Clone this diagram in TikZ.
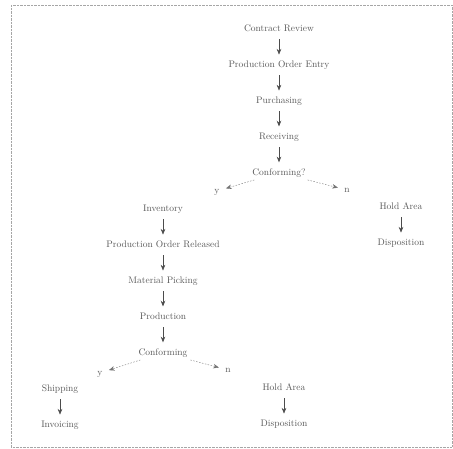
\documentclass[tikz,border=0pt]{standalone}
\usepackage{tikz}
\usetikzlibrary{arrows.meta, positioning}

\begin{document}
\begin{tikzpicture}[x=1pt, y=-1pt, >={Stealth[length=2mm, width=1.6mm]}, node distance=21.3pt,
    every node/.style={font=\fontsize{9.5}{11}\selectfont, text=black!65, text height=1.5ex, text depth=.25ex},
    flow/.style={->, draw=black!70, semithick, shorten <=3pt, shorten >=3pt},
    branch/.style={->, draw=black!55, dash pattern=on 1.5pt off 1.5pt, shorten >=3pt}]
    \useasboundingbox (0,0) rectangle (453,448);
    \draw[black!35, densely dotted] (11,5) rectangle (452,447);

    % incoming material
    \node (contract) at (279,29) {Contract Review};
    \node[below=of contract] (entry) {Production Order Entry};
    \node[below=of entry] (purchasing) {Purchasing};
    \node[below=of purchasing] (receiving) {Receiving};
    \node[below=of receiving] (conf1) {Conforming?};
    \node (y1) at (217,191) {y};
    \node (n1) at (347,190) {n};

    % conforming material
    \node (inventory) at (163,209) {Inventory};
    \node[below=of inventory] (released) {Production Order Released};
    \node[below=of released] (picking) {Material Picking};
    \node[below=of picking] (production) {Production};
    \node[below=of production] (conf2) {Conforming};
    \node (y2) at (100,373) {y};
    \node (n2) at (228,370) {n};

    % non-conforming material
    \node (hold1) at (401,207) {Hold Area};
    \node[below=of hold1] (disp1) {Disposition};

    % final product
    \node (shipping) at (60,389) {Shipping};
    \node[below=of shipping] (invoicing) {Invoicing};
    \node (hold2) at (284,388) {Hold Area};
    \node[below=of hold2] (disp2) {Disposition};

    \draw[flow] (contract) -- (entry);
    \draw[flow] (entry) -- (purchasing);
    \draw[flow] (purchasing) -- (receiving);
    \draw[flow] (receiving) -- (conf1);
    \draw[branch] (conf1) -- (y1);
    \draw[branch] (conf1) -- (n1);
    \draw[flow] (inventory) -- (released);
    \draw[flow] (released) -- (picking);
    \draw[flow] (picking) -- (production);
    \draw[flow] (production) -- (conf2);
    \draw[branch] (conf2) -- (y2);
    \draw[branch] (conf2) -- (n2);
    \draw[flow] (hold1) -- (disp1);
    \draw[flow] (shipping) -- (invoicing);
    \draw[flow] (hold2) -- (disp2);
\end{tikzpicture}
\end{document}
